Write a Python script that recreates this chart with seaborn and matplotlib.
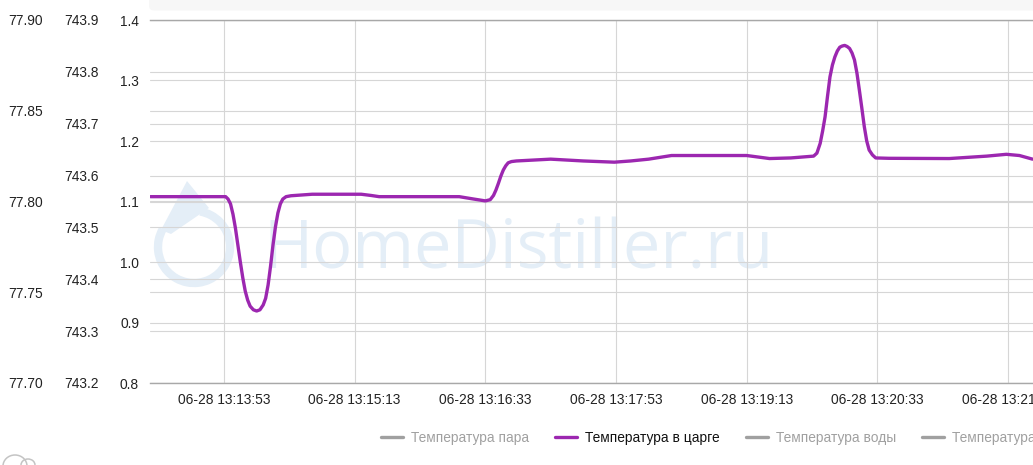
import numpy as np
import pandas as pd
import seaborn as sns
import matplotlib.pyplot as plt
import matplotlib.dates as mdates
from matplotlib.lines import Line2D
from matplotlib.patches import FancyBboxPatch, Arc, Polygon

# data (only "Температура в царге" is switched on)
day = "2023-06-28 "
times = [
    "13:13:08", "13:13:32", "13:13:54", "13:13:55.5", "13:13:57", "13:13:58.5",
    "13:14:00", "13:14:01.5", "13:14:03", "13:14:04.5", "13:14:06", "13:14:07.5",
    "13:14:09", "13:14:11", "13:14:13", "13:14:15", "13:14:17", "13:14:18.5",
    "13:14:20", "13:14:21.5", "13:14:23", "13:14:24.5", "13:14:26", "13:14:27.5",
    "13:14:29", "13:14:31", "13:14:34", "13:14:47", "13:15:17", "13:15:23",
    "13:15:28", "13:16:17", "13:16:26", "13:16:33", "13:16:36", "13:16:38",
    "13:16:39.5", "13:16:41", "13:16:42.5", "13:16:44", "13:16:45.5", "13:16:47",
    "13:16:49", "13:16:52", "13:17:13", "13:17:33", "13:17:52", "13:18:02",
    "13:18:13", "13:18:20", "13:18:27", "13:19:13", "13:19:20", "13:19:27",
    "13:19:40", "13:19:54", "13:19:56", "13:19:58", "13:19:59.5", "13:20:01",
    "13:20:02.5", "13:20:04", "13:20:05.5", "13:20:07", "13:20:08.5", "13:20:10",
    "13:20:11.5", "13:20:13", "13:20:14.5", "13:20:16", "13:20:17.5", "13:20:19",
    "13:20:20.5", "13:20:22", "13:20:23.5", "13:20:25", "13:20:26.5", "13:20:28",
    "13:20:30", "13:20:32", "13:20:40", "13:21:17", "13:21:40", "13:21:52",
    "13:22:00", "13:22:08",
]
tsarga = [
    1.108, 1.108, 1.108, 1.104, 1.096, 1.079,
    1.056, 1.028, 1.000, 0.974, 0.952, 0.937,
    0.927, 0.921, 0.919, 0.921, 0.929, 0.940,
    0.962, 0.993, 1.028, 1.058, 1.081, 1.096,
    1.104, 1.108, 1.1095, 1.112, 1.112, 1.110,
    1.108, 1.108, 1.104, 1.101, 1.103, 1.110,
    1.119, 1.130, 1.142, 1.152, 1.159, 1.164,
    1.166, 1.167, 1.170, 1.167, 1.165, 1.167,
    1.170, 1.173, 1.176, 1.176, 1.1735, 1.171,
    1.172, 1.175, 1.180, 1.196, 1.2165, 1.240,
    1.274, 1.306, 1.3256, 1.339, 1.3488, 1.355,
    1.357, 1.358, 1.3562, 1.353, 1.3455, 1.334,
    1.3124, 1.284, 1.2545, 1.224, 1.200, 1.185,
    1.177, 1.172, 1.1714, 1.171, 1.175, 1.178,
    1.176, 1.170,
]

tick_times = ["13:13:53", "13:15:13", "13:16:33", "13:17:53",
              "13:19:13", "13:20:33", "13:21:53"]
main_ticks = [0.8, 0.9, 1.0, 1.1, 1.2, 1.3, 1.4]
press_ticks = [743.2, 743.3, 743.4, 743.5, 743.6, 743.7, 743.8, 743.9]
temp_ticks = [77.70, 77.75, 77.80, 77.85, 77.90]
legend_names = ["Температура пара", "Температура в царге",
                "Температура воды", "Температура ТСА"]
legend_active = [False, True, False, False]

df = pd.DataFrame({"time": pd.to_datetime([day + t for t in times], format="ISO8601"),
                   "value": tsarga})

sns.set_theme(style="white")
plt.rcParams['font.family'] = ['Liberation Sans', 'DejaVu Sans']

W, H = 1033, 465
FS = 9.9
fig = plt.figure(figsize=(W / 100, H / 100), dpi=100)
fig.patch.set_facecolor("white")

# background layer in pixel coords: watermark, toolbar strip, legend
bg = fig.add_axes([0, 0, 1, 1], zorder=0)
bg.set_xlim(0, W)
bg.set_ylim(H, 0)
bg.axis("off")

wm = "#e4eef7"
bg.add_patch(FancyBboxPatch((149, -6), 900, 16.5,
                            boxstyle="round,pad=0,rounding_size=5",
                            fc="#f7f7f7", ec="none"))
bg.text(519, 268, "HomeDistiller.ru", fontsize=48, color=wm,
        ha="center", va="baseline", family="Open Sans")
bg.add_patch(Arc((194, 247), 72, 72, theta1=-80, theta2=210, lw=6, color=wm))
bg.add_patch(Polygon([(187, 181), (161, 230), (171, 234), (209, 208)],
                     closed=True, fc=wm, ec="none"))
bg.add_patch(Arc((15, 466), 24, 22, theta1=180, theta2=360, lw=1.1, color="#c4c4c4"))
bg.add_patch(Arc((28, 465), 14, 12, theta1=180, theta2=360, lw=1.1, color="#c4c4c4"))

# main plot area
ax = fig.add_axes([150 / W, (H - 383) / H, (W - 150) / W, (383 - 20) / H], zorder=3)
ax.patch.set_visible(False)
ax_p = ax.twinx()
ax_t = ax.twinx()
ax_p.set_zorder(1)
ax_t.set_zorder(2)

grid_kw = dict(color="#d6d6d6", lw=0.8)
sns.lineplot(data=df, x="time", y="value", ax=ax, color="#9c27b0",
             lw=2.4, legend=False, solid_joinstyle="round", solid_capstyle="round")

t0 = pd.Timestamp(day + tick_times[0])
ax.set_xlim(t0 - pd.Timedelta(seconds=45.3), t0 + pd.Timedelta(seconds=495.3))
ax.set_xticks(mdates.date2num(pd.to_datetime([day + t for t in tick_times])))
ax.xaxis.set_major_formatter(mdates.DateFormatter("%m-%d %H:%M:%S"))
ax.set_xlabel("")
ax.set_ylabel("")

ax.set_ylim(main_ticks[0], main_ticks[-1])
ax.set_yticks(main_ticks)
ax.set_yticklabels([f"{v:.1f}" for v in main_ticks])

ax_p.set_ylim(press_ticks[0], press_ticks[-1])
ax_p.set_yticks(press_ticks)
ax_p.set_yticklabels([f"{v:.1f}" for v in press_ticks])
ax_p.yaxis.tick_left()

ax_t.set_ylim(temp_ticks[0], temp_ticks[-1])
ax_t.set_yticks(temp_ticks)
ax_t.set_yticklabels([f"{v:.2f}" for v in temp_ticks])
ax_t.yaxis.tick_left()

ax.grid(True, axis="both", **grid_kw)
ax_p.grid(True, axis="y", **grid_kw)
ax_t.grid(True, axis="y", **grid_kw)

for a in (ax, ax_p, ax_t):
    for s in a.spines.values():
        s.set_visible(False)
for s in ("top", "bottom"):
    ax.spines[s].set_visible(True)
    ax.spines[s].set_color("#a8a8a8")
    ax.spines[s].set_linewidth(1.0)

lab = dict(labelsize=FS, labelcolor="#222222", length=0)
ax.tick_params(axis="x", pad=7.5, **lab)
ax.tick_params(axis="y", pad=7.9, **lab)
ax_p.tick_params(axis="y", pad=36.7, **lab)
ax_t.tick_params(axis="y", pad=77, **lab)

# legend (runs off the right edge like the screenshot)
handles = [Line2D([], [], color="#9c27b0" if on else "#a0a0a0", lw=2.4)
           for on in legend_active]
leg = bg.legend(handles, legend_names, loc="center left",
                bbox_to_anchor=(381, 438), bbox_transform=bg.transData,
                ncol=4, frameon=False, fontsize=FS, handlelength=1.6,
                handletextpad=0.58, columnspacing=1.89, borderpad=0,
                borderaxespad=0)
for txt, on in zip(leg.get_texts(), legend_active):
    txt.set_color("#111111" if on else "#a0a0a0")

fig.savefig("out.png", dpi=100)
